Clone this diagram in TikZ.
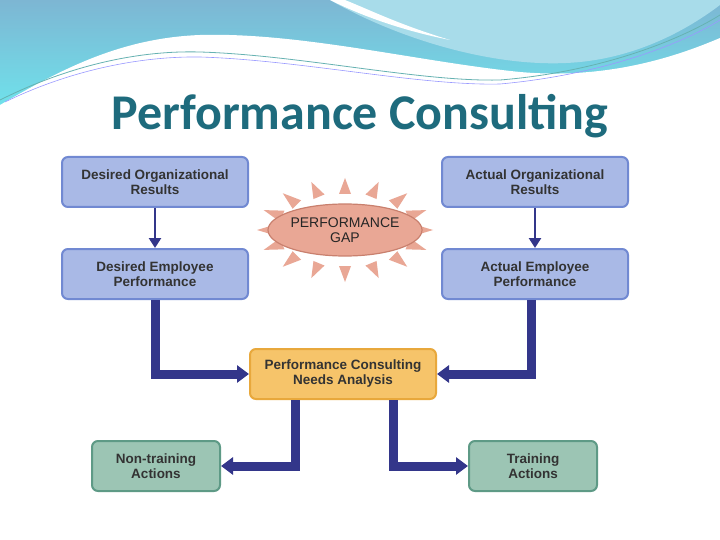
\documentclass[tikz,border=0pt]{standalone}
\usepackage{fontspec}
\setmainfont{Liberation Sans}
\newfontfamily\titlefont{Carlito}
\usetikzlibrary{arrows.meta,shapes.geometric}
\definecolor{boxblue}{HTML}{A9B9E6}
\definecolor{boxedge}{HTML}{7189D2}
\definecolor{orangebox}{HTML}{F6C46A}
\definecolor{orangeedge}{HTML}{E8A83C}
\definecolor{greenbox}{HTML}{9CC5B4}
\definecolor{greenedge}{HTML}{5E9A86}
\definecolor{navy}{HTML}{33368A}
\definecolor{gapfill}{HTML}{E9A795}
\definecolor{gapedge}{HTML}{C9806E}
\definecolor{titlec}{HTML}{1E6B7D}
\definecolor{wavetop}{HTML}{7DB6D3}
\definecolor{wavebot}{HTML}{6FE3EC}
\definecolor{wavelight}{HTML}{A8DCEA}
\begin{document}
\begin{tikzpicture}[x=1pt,y=-1pt,
  bbox/.style={rectangle,rounded corners=6pt,draw=boxedge,line width=2pt,fill=boxblue,minimum width=186pt,minimum height=50pt,align=center,font=\bfseries\fontsize{13.5}{15}\selectfont,text=black!80},
  obox/.style={bbox,draw=orangeedge,fill=orangebox},
  gbox/.style={bbox,draw=greenedge,fill=greenbox,minimum width=128pt},
  thin/.style={navy,line width=2.5pt,-{Triangle[length=10pt,width=12pt]}},
  bar/.style={navy,line width=9pt,-{Triangle[length=12pt,width=17pt]}}]
\useasboundingbox (0,0) rectangle (720,540);
\fill[white] (0,0) rectangle (720,540);
% header waves
\shade[top color=wavetop,bottom color=wavebot] (0,0) rectangle (720,110);
\fill[wavelight] (330,0) .. controls (400,40) and (500,70) .. (580,62) .. controls (650,55) and (700,20) .. (720,5) -- (720,0) -- cycle;
\fill[white] (0,105) .. controls (60,70) and (120,38) .. (200,35) .. controls (300,32) and (420,62) .. (520,72) .. controls (610,80) and (680,55) .. (720,38) -- (720,540) -- (0,540) -- cycle;
\fill[white] (330,0) .. controls (360,15) and (400,30) .. (450,40) .. controls (400,25) and (370,10) .. (345,0) -- cycle;
\draw[teal!60,line width=0.8pt] (0,100) .. controls (60,70) and (130,50) .. (200,52) .. controls (300,55) and (420,82) .. (500,80) .. controls (600,72) and (680,40) .. (720,15);
\draw[blue!40,line width=0.6pt] (5,102) .. controls (60,75) and (130,56) .. (200,57) .. controls (300,60) and (420,86) .. (500,84) .. controls (600,75) and (680,45) .. (720,20);
\node[font=\titlefont\bfseries\fontsize{50}{54}\selectfont,text=titlec] (title) at (360,116) {Performance Consulting};
% boxes
\node[bbox] (dor) at (155,182) {Desired Organizational\\Results};
\node[bbox] (aor) at (535,182) {Actual Organizational\\Results};
\node[bbox] (dep) at (155,274) {Desired Employee\\Performance};
\node[bbox] (aep) at (535,274) {Actual Employee\\Performance};
\node[obox] (nA) at (343,374) {Performance Consulting\\Needs Analysis};
\node[gbox] (nt) at (156,466) {Non-training\\Actions};
\node[gbox] (tr) at (533,466) {Training\\Actions};
% gap spikes
\foreach \a in {0,22.5,...,337.5}
  \fill[gapfill] ({345+68*cos(\a)+6*sin(\a)}, {230+36*sin(\a)-6*cos(\a)}) -- ({345+88*cos(\a)},{230+52*sin(\a)}) -- ({345+68*cos(\a)-6*sin(\a)},{230+36*sin(\a)+6*cos(\a)}) -- cycle;
\node[ellipse,draw=gapedge,line width=1.2pt,fill=gapfill,minimum width=114pt,minimum height=52pt,inner sep=0pt,align=center,font=\fontsize{14}{15}\selectfont,text=black!85] (gap) at (345,230) {PERFORMANCE\\GAP};
% connectors
\draw[thin] (dor) -- (dep);
\draw[thin] (aor) -- (aep);
\draw[bar] (dep.south) -- (155,374) -- (nA.west);
\draw[bar] (aep.south -| 531,0) -- (531,374) -- (nA.east);
\draw[bar] (nA.south -| 295,0) -- (295,466) -- (nt.east);
\draw[bar] (nA.south -| 393,0) -- (393,466) -- (tr.west);
\end{tikzpicture}
\end{document}
